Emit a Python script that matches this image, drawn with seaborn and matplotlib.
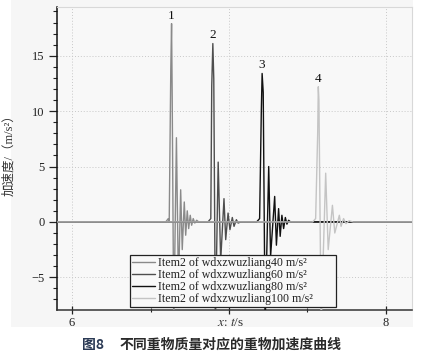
import numpy as np
import pandas as pd
import matplotlib
matplotlib.use("Agg")
import matplotlib.pyplot as plt
from matplotlib.ticker import MultipleLocator, FixedLocator
from matplotlib.patches import Rectangle
import seaborn as sns

# ---------------- data ----------------
t40 = [5.90, 6.597, 6.613, 6.619, 6.629, 6.634, 6.638, 6.648, 6.665, 6.678, 6.692, 6.702,
       6.715, 6.724, 6.734, 6.743, 6.753, 6.762, 6.772, 6.782, 6.794, 6.807, 8.17]
a40 = [0.0, 0.0, 0.3, 0.0, 13.7, 17.9, 11.3, -9.5, 7.6, -6.0, 2.9, -2.5,
       1.8, -1.2, 1.0, -0.6, 0.6, -0.3, 0.3, -0.1, 0.15, 0.0, 0.0]

t60 = [5.90, 6.866, 6.884, 6.890, 6.897, 6.903, 6.913, 6.931, 6.947, 6.968, 6.979,
       6.994, 7.006, 7.021, 7.032, 7.047, 7.058, 7.075, 8.17]
a60 = [0.0, 0.0, 0.3, 12.3, 16.1, 12.9, -9.5, 5.4, -3.5, 2.1, -1.6,
       0.8, -0.7, 0.4, -0.4, 0.2, -0.1, 0.0, 0.0]

t80 = [5.90, 7.176, 7.195, 7.206, 7.211, 7.218, 7.230, 7.253, 7.265, 7.291, 7.302, 7.316,
       7.326, 7.337, 7.348, 7.359, 7.369, 7.380, 7.392, 8.17]
a80 = [0.0, 0.0, 0.3, 10.1, 13.4, 11.7, -9.5, 5.0, -3.1, 2.3, -2.1, 1.2,
       -1.3, 0.6, -0.6, 0.4, -0.2, 0.15, 0.0, 0.0]

t100 = [5.90, 7.533, 7.552, 7.565, 7.569, 7.573, 7.587, 7.616, 7.632, 7.659, 7.674, 7.703,
        7.714, 7.730, 7.745, 7.765, 7.791, 8.17]
a100 = [0.0, 0.0, 0.3, 8.0, 12.2, 11.0, -9.5, 4.4, -2.5, 1.5, -1.0, 0.6,
        -0.4, 0.3, -0.15, 0.1, 0.0, 0.0]

series_labels = ["Item2 of wdxzwuzliang40 m/s²",
                 "Item2 of wdxzwuzliang60 m/s²",
                 "Item2 of wdxzwuzliang80 m/s²",
                 "Item2 of wdxzwuzliang100 m/s²"]
peak_labels = ["1", "2", "3", "4"]
colors = ["#8a8a8a", "#4e4e4e", "#111111", "#c4c4c4"]

x_major = [6, 7, 8]
x_major_labels = ["6", "", "8"]
y_major = [-5, 0, 5, 10, 15]

# ---------------- styling ----------------
sns.set_style("ticks")
plt.rcParams["font.family"] = ["Liberation Serif", "Noto Sans CJK SC", "DejaVu Sans"]
plt.rcParams["mathtext.fontset"] = "stix"
plt.rcParams["axes.unicode_minus"] = True

fig = plt.figure(figsize=(4.48, 3.55), dpi=100)
fig.patch.set_facecolor("white")
fig.patches.append(Rectangle((11 / 448, 1 - 327 / 355), 402 / 448, 327 / 355,
                             transform=fig.transFigure, facecolor="#f6f6f6",
                             edgecolor="none", zorder=-10))
ax = fig.add_axes([57 / 448, 1 - 310 / 355, 355 / 448, 303 / 355])
ax.set_facecolor("#f8f8f8")

ts = [t40, t60, t80, t100]
vs = [a40, a60, a80, a100]
frames = []
for t, v, lab in zip(ts, vs, series_labels):
    frames.append(pd.DataFrame({"t": t, "a": v, "series": lab}))
df = pd.concat(frames, ignore_index=True)

sns.lineplot(data=df, x="t", y="a", hue="series", hue_order=series_labels,
             palette=dict(zip(series_labels, colors)), sort=False, estimator=None,
             linewidth=1.0, ax=ax, legend=False, zorder=3)

# peak labels
for t, v, pl in zip(ts, vs, peak_labels):
    i = int(np.argmax(v))
    ax.annotate(pl, (t[i], v[i]), xytext=(0, 1.5), textcoords="offset points",
                ha="center", va="bottom", fontsize=9.5, color="#111111",
                family="Liberation Serif")

ax.set_xlim(5.904, 8.166)
ax.set_ylim(-7.95, 19.4)

ax.xaxis.set_major_locator(FixedLocator(x_major))
ax.set_xticklabels(x_major_labels)
ax.xaxis.set_minor_locator(MultipleLocator(0.5))
ax.yaxis.set_major_locator(FixedLocator(y_major))
ax.yaxis.set_minor_locator(MultipleLocator(1))

ax.tick_params(axis="y", which="major", direction="out", length=6, width=0.9,
               labelsize=9, colors="#222222", pad=3)
ax.tick_params(axis="y", which="minor", direction="out", length=3, width=0.8, colors="#222222")
ax.tick_params(axis="x", which="major", direction="inout", length=6, width=0.9,
               labelsize=9, colors="#222222", pad=2)
ax.tick_params(axis="x", which="minor", direction="inout", length=3.5, width=0.8, colors="#222222")

ax.grid(True, which="major", linestyle=(0, (1, 2)), color="#c8c8c8", linewidth=0.7, zorder=0)

ax.spines["left"].set_color("#111111")
ax.spines["left"].set_linewidth(1.1)
ax.spines["bottom"].set_color("#333333")
ax.spines["bottom"].set_linewidth(1.1)
for s in ["top", "right"]:
    ax.spines[s].set_visible(True)
    ax.spines[s].set_color("#d8d8d8")
    ax.spines[s].set_linewidth(0.8)

ax.set_ylabel("加速度/（m/s²）", fontsize=9, color="#333333",
              family=["Liberation Serif", "Noto Sans CJK SC"])
ax.yaxis.set_label_coords(-0.118, 0.52)
ax.set_xlabel("$x$: $t$/s", fontsize=9.5, color="#333333")
ax.xaxis.set_label_coords(0.49, -0.022)

handles = [plt.Line2D([], [], color=c, lw=1.0) for c in colors]
leg = ax.legend(handles, series_labels, loc="lower left",
                bbox_to_anchor=(0.206, 0.01, 0.58, 0.15), mode="expand",
                borderaxespad=0, handlelength=1.9, handletextpad=0.3,
                labelspacing=0.0, borderpad=0.15, frameon=True, fancybox=False,
                framealpha=1.0, facecolor="#f8f8f8", edgecolor="#222222",
                prop={"family": "Liberation Serif", "size": 8.6})
leg.get_frame().set_linewidth(0.9)
leg.set_zorder(5)
for txt in leg.get_texts():
    txt.set_color("#222222")

fig.text(82 / 448, 1 - 345 / 355, "图8", fontsize=10, fontweight="bold",
         color="#2b3a55", family=["Noto Sans CJK SC"], ha="left", va="center")
fig.text(120 / 448, 1 - 345 / 355, "不同重物质量对应的重物加速度曲线", fontsize=10,
         fontweight="bold", color="#2a2a2a", family=["Noto Sans CJK SC"],
         ha="left", va="center")

fig.savefig("out.png", dpi=100, facecolor=fig.get_facecolor())
